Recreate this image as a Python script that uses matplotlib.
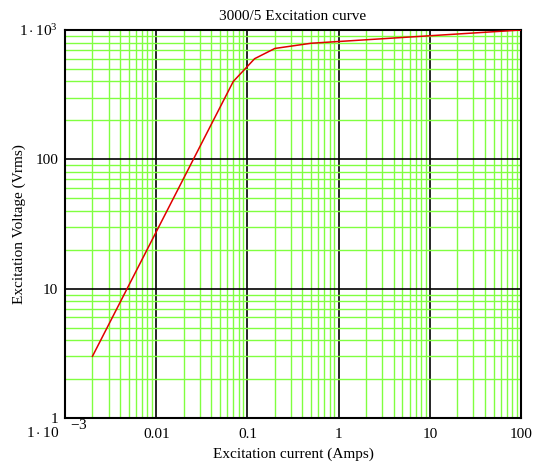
import matplotlib
matplotlib.use("Agg")
import matplotlib.pyplot as plt
from matplotlib.ticker import LogLocator, FixedLocator, NullFormatter

plt.rcParams['font.family'] = ['Liberation Serif', 'DejaVu Serif']
plt.rcParams['mathtext.fontset'] = 'custom'
plt.rcParams['mathtext.rm'] = 'Liberation Serif'
plt.rcParams['mathtext.it'] = 'Liberation Serif'

current = [0.002, 0.07, 0.12, 0.2, 0.5, 100]
voltage = [3, 400, 600, 720, 790, 1000]

x_ticks = [1e-3, 0.01, 0.1, 1, 10, 100]
x_labels = ["", "0.01", "0.1", "1", "10", "100"]
y_ticks = [1, 10, 100, 1000]
y_labels = ["1", "10", "100", r"$1\cdot10^{3}$"]

fig = plt.figure(figsize=(5.35, 4.66), dpi=100)
ax = fig.add_axes([65/535, 1-418/466, (521-65)/535, (418-30)/466])
ax.set_xscale('log')
ax.set_yscale('log')
ax.set_xlim(1e-3, 100)
ax.set_ylim(1, 1000)

green = '#80ff40'
ax.xaxis.set_major_locator(FixedLocator(x_ticks))
ax.yaxis.set_major_locator(FixedLocator(y_ticks))
ax.xaxis.set_minor_locator(LogLocator(base=10, subs=range(2, 10), numticks=20))
ax.yaxis.set_minor_locator(LogLocator(base=10, subs=range(2, 10), numticks=20))
ax.xaxis.set_minor_formatter(NullFormatter())
ax.yaxis.set_minor_formatter(NullFormatter())
ax.set_xticklabels(x_labels)
ax.set_yticklabels(y_labels)
ax.grid(which='minor', color=green, linewidth=1.0)
ax.grid(which='major', color='black', linewidth=1.2)
ax.set_axisbelow(True)
ax.tick_params(which='both', length=0, labelsize=11)
ax.tick_params(axis='x', pad=7)
ax.tick_params(axis='y', pad=5)
for s in ax.spines.values():
    s.set_linewidth(1.5)
    s.set_color('black')

ax.plot(current, voltage, color='#e00000', linewidth=1.1, zorder=3)

ax.text(-0.012, -0.02, r"$1\cdot10$", transform=ax.transAxes, ha='right', va='top', fontsize=11)
ax.text(0.012, 0.0, r"$-3$", transform=ax.transAxes, ha='left', va='top', fontsize=11)

ax.set_title("3000/5 Excitation curve", fontsize=11, pad=7)
ax.set_xlabel("Excitation current (Amps)", fontsize=11, labelpad=5)
ax.set_ylabel("Excitation Voltage (Vrms)", fontsize=11)
ax.yaxis.set_label_coords(-0.085, 0.5)

fig.savefig("out.png", dpi=100)
